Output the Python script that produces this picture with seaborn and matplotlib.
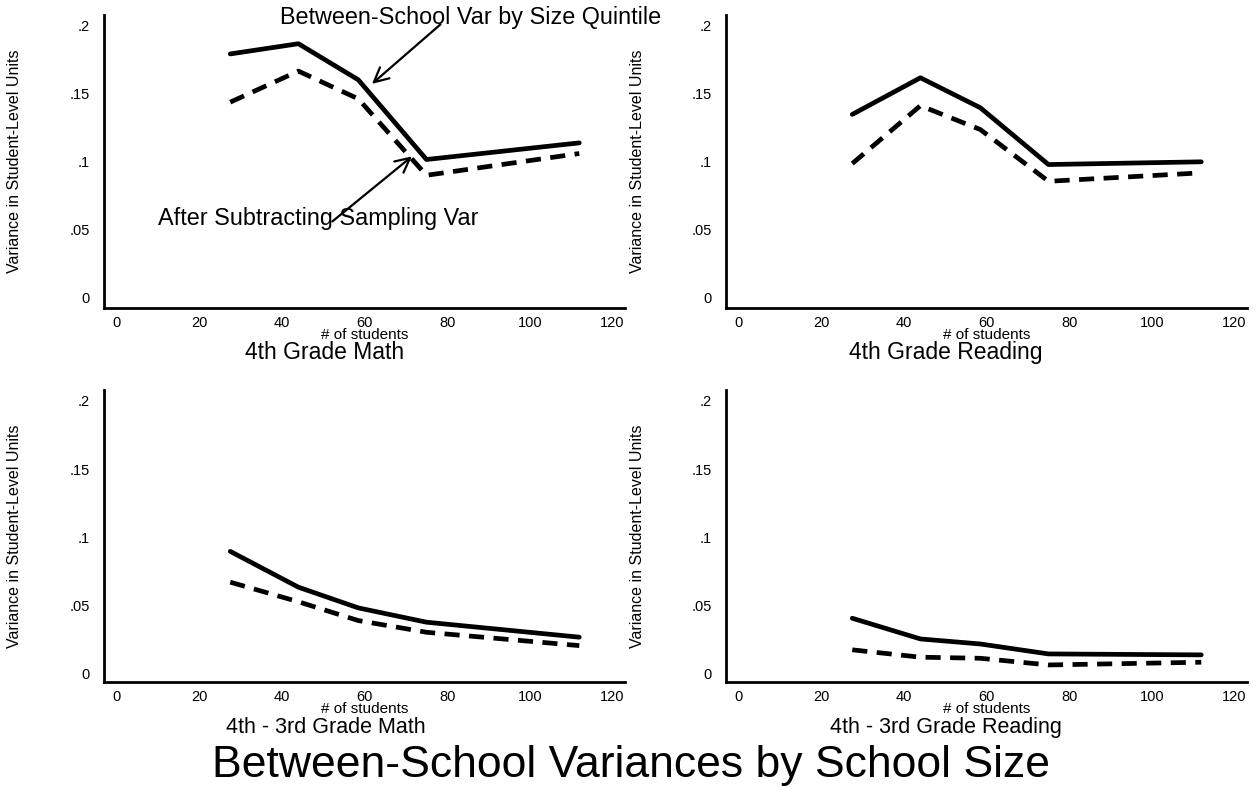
import pandas as pd
import matplotlib
matplotlib.use('Agg')
import matplotlib.pyplot as plt
import seaborn as sns

# Size quintile midpoints (# of students)
students = [27.5, 44, 58.5, 75, 112]

# Between-school variance by size quintile (solid) and after subtracting sampling var (dashed)
math4_raw = [0.179, 0.1865, 0.160, 0.1015, 0.1137]
math4_adj = [0.1436, 0.1664, 0.146, 0.0899, 0.1059]
read4_raw = [0.1346, 0.1615, 0.1395, 0.0978, 0.0998]
read4_adj = [0.0985, 0.141, 0.1235, 0.0855, 0.0917]
math43_raw = [0.0895, 0.0632, 0.048, 0.0375, 0.0265]
math43_adj = [0.0669, 0.0525, 0.0387, 0.0301, 0.0203]
read43_raw = [0.0404, 0.0252, 0.0215, 0.0142, 0.0135]
read43_adj = [0.0172, 0.0118, 0.0110, 0.0061, 0.0081]

panel_titles = ['4th Grade Math', '4th Grade Reading',
                '4th - 3rd Grade Math', '4th - 3rd Grade Reading']
yticks = [0, 0.05, 0.1, 0.15, 0.2]
ytick_labels = ['0', '.05', '.1', '.15', '.2']
xticks = [0, 20, 40, 60, 80, 100, 120]

series = {
    panel_titles[0]: (math4_raw, math4_adj),
    panel_titles[1]: (read4_raw, read4_adj),
    panel_titles[2]: (math43_raw, math43_adj),
    panel_titles[3]: (read43_raw, read43_adj),
}

rows = []
for title, (raw, adj) in series.items():
    for x, r, a in zip(students, raw, adj):
        rows.append({'panel': title, 'students': x, 'var': r, 'kind': 'raw'})
        rows.append({'panel': title, 'students': x, 'var': a, 'kind': 'adj'})
df = pd.DataFrame(rows)

sns.set_style('white')
plt.rcParams['font.family'] = ['Liberation Sans', 'DejaVu Sans']
plt.rcParams['text.color'] = 'black'
plt.rcParams['axes.labelcolor'] = 'black'

W, H = 1258, 787
fig = plt.figure(figsize=(W / 100, H / 100), dpi=100)

# axes boxes in pixels: (left, top, right, bottom)
boxes = [(104.3, 14.7, 624.7, 307.7), (726.3, 14.7, 1246.7, 307.7),
         (104.3, 390.3, 624.7, 681.7), (726.3, 390.3, 1246.7, 681.7)]
ylims = [(-0.0073, 0.2078), (-0.0073, 0.2078), (-0.0062, 0.2078), (-0.0062, 0.2078)]
sub_centers = [325, 946, 326, 946]
sub_offsets = [44.5, 44.5, 45.5, 45.5]
sub_sizes = [16.5, 16.5, 15.5, 15.5]

axes = []
for i, title in enumerate(panel_titles):
    l, t, r, b = boxes[i]
    ax = fig.add_axes([l / W, 1 - b / H, (r - l) / W, (b - t) / H])
    axes.append(ax)
    sub = df[df['panel'] == title]
    sns.lineplot(data=sub, x='students', y='var', style='kind',
                 style_order=['raw', 'adj'],
                 dashes={'raw': '', 'adj': (3.2, 2.0)},
                 color='black', linewidth=3.4, legend=False, ax=ax)
    ax.set_xlim(-3, 123)
    ax.set_ylim(*ylims[i])
    ax.set_xticks(xticks)
    ax.set_yticks(yticks)
    ax.set_yticklabels(ytick_labels)
    for s in ['top', 'right']:
        ax.spines[s].set_visible(False)
    for s in ['left', 'bottom']:
        ax.spines[s].set_linewidth(2.0)
        ax.spines[s].set_color('black')
    ax.tick_params(axis='both', direction='out', width=1.5,
                   labelsize=10.5, colors='black')
    ax.tick_params(axis='y', length=6.5, pad=4)
    ax.tick_params(axis='x', length=5, pad=1)
    ah = b - t
    aw = r - l
    ax.set_xlabel('# of students', fontsize=11, va='center')
    ax.xaxis.set_label_coords(0.5, -27.5 / ah)
    ax.set_ylabel('Variance in Student-Level Units', fontsize=11.5, va='center')
    ax.yaxis.set_label_coords(-(l - (15 if i % 2 == 0 else 637)) / aw, 0.5)
    # panel subtitle
    fig.text(sub_centers[i] / W, 1 - (b + sub_offsets[i]) / H, title,
             ha='center', va='center', fontsize=sub_sizes[i])

# annotations on the first panel
ax = axes[0]
arrow = dict(arrowstyle='->', lw=1.6, color='black',
             mutation_scale=26, shrinkA=0, shrinkB=0)
ax.text(85.8, 0.2061, 'Between-School Var by Size Quintile',
        ha='center', va='center', fontsize=16.8, clip_on=False)
ax.annotate('', xy=(61.8, 0.157), xytext=(78.4, 0.2007),
            annotation_clip=False, arrowprops=arrow)
ax.text(48.9, 0.0584, 'After Subtracting Sampling Var',
        ha='center', va='center', fontsize=16.8, clip_on=False)
ax.annotate('', xy=(71.5, 0.1038), xytext=(52.2, 0.056),
            annotation_clip=False, arrowprops=arrow)

fig.text(631 / W, 1 - 766 / H, 'Between-School Variances by School Size',
         ha='center', va='center', fontsize=32)

fig.savefig('out.png', dpi=100)
